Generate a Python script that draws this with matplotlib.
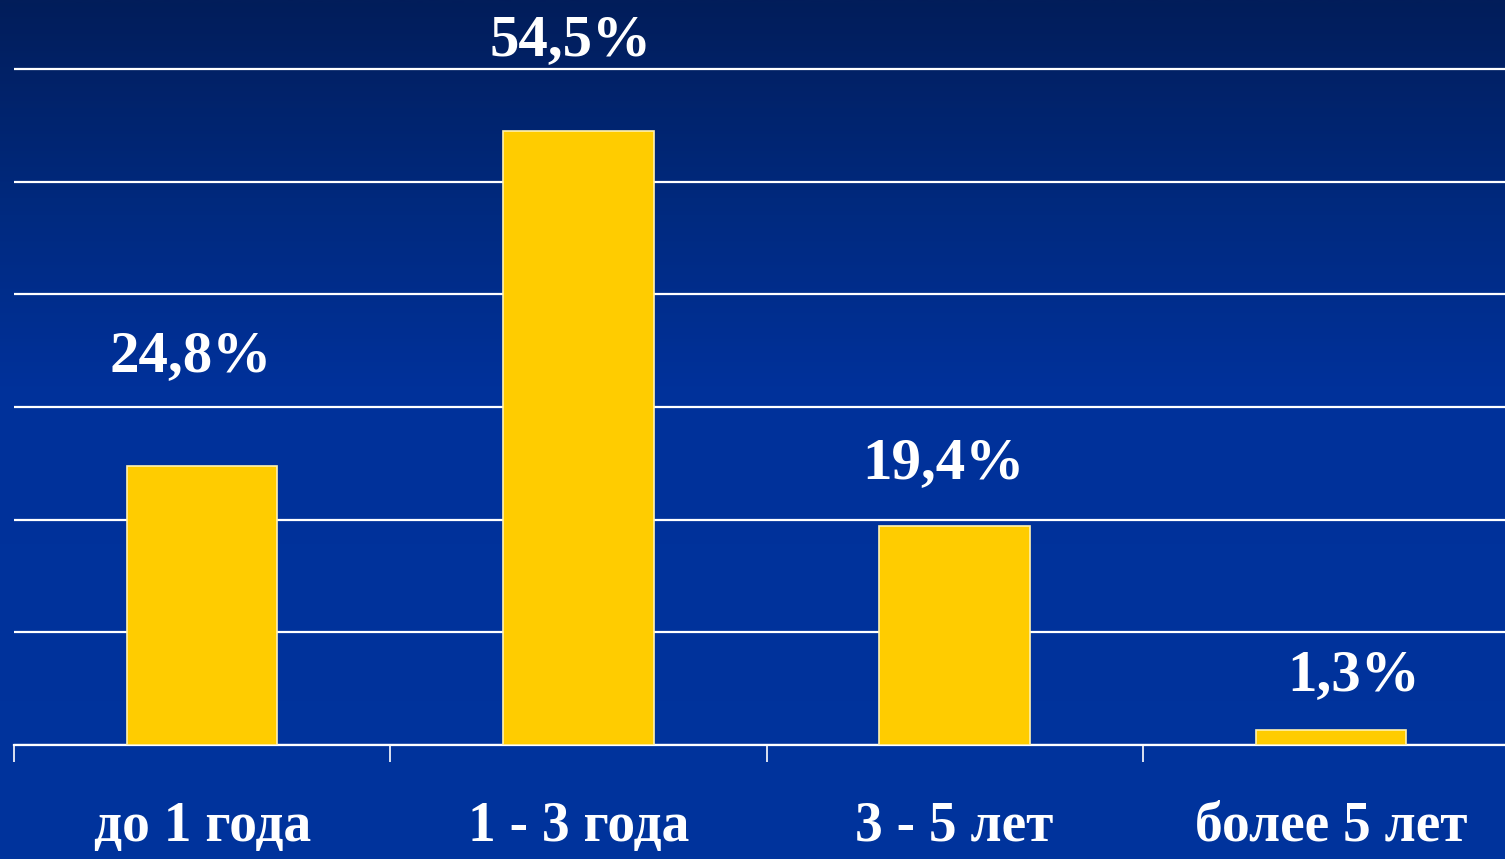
import matplotlib
matplotlib.use("Agg")
import matplotlib.pyplot as plt
import numpy as np
from matplotlib.colors import LinearSegmentedColormap

categories = ["до 1 года", "1 - 3 года", "3 - 5 лет", "более 5 лет"]
values = [24.8, 54.5, 19.4, 1.3]
value_labels = ["24,8%", "54,5%", "19,4%", "1,3%"]
# label placement offsets (x in category units, y in value units)
label_dx = [-0.03, -0.02, -0.03, 0.06]
label_dy = [9.6, 8.0, 5.5, 4.8]
yticks = [0, 10, 20, 30, 40, 50, 60]

W, H = 1505, 859
fig = plt.figure(figsize=(W / 100, H / 100), dpi=100)

# background gradient
bg = fig.add_axes([0, 0, 1, 1], zorder=0)
cmap = LinearSegmentedColormap.from_list(
    "bg", [(0.0, "#021d5a"), (0.25, "#002a80"), (0.45, "#00319a"), (1.0, "#00349d")])
grad = np.linspace(0, 1, 512).reshape(-1, 1)
bg.imshow(grad, aspect="auto", cmap=cmap, extent=[0, 1, 1, 0])
bg.set_xlim(0, 1)
bg.set_ylim(1, 0)
bg.axis("off")

left = 14 / W
right = 1519 / W
bottom = (H - 745) / H
top_val = 61
px_per_unit = 614 / 54.5
top = (H - (745 - top_val * px_per_unit)) / H
ax = fig.add_axes([left, bottom, right - left, top - bottom], zorder=1)
ax.patch.set_alpha(0)

x = np.arange(len(categories)) + 0.5
ax.bar(x, values, width=0.4, color="#ffcc00", edgecolor="#fff2b0", linewidth=1.2, zorder=3)

ax.set_xlim(0, 4)
ax.set_ylim(0, top_val)
ax.set_yticks(yticks)
ax.yaxis.grid(True, color="white", linewidth=1.6, zorder=1)
ax.set_axisbelow(True)
ax.tick_params(axis="y", length=0, labelleft=False)

ax.set_xticks([0, 1, 2, 3, 4])
ax.set_xticklabels([])
ax.tick_params(axis="x", which="major", direction="out", length=12, width=1.2, color="white")
ax.set_xticks(x, minor=True)
ax.set_xticklabels(categories, minor=True, fontsize=40, color="white",
                   fontfamily="Liberation Serif", fontweight="bold")
ax.tick_params(axis="x", which="minor", length=0, pad=40)

for s in ["top", "right", "left"]:
    ax.spines[s].set_visible(False)
ax.spines["bottom"].set_color("white")
ax.spines["bottom"].set_linewidth(1.6)

for xi, v, lab, dx, dy in zip(x, values, value_labels, label_dx, label_dy):
    ax.text(xi + dx, v + dy, lab, ha="center", va="center", fontsize=42.5,
            color="white", fontfamily="Liberation Serif", fontweight="bold", zorder=4)

fig.savefig("out.png", dpi=100)
